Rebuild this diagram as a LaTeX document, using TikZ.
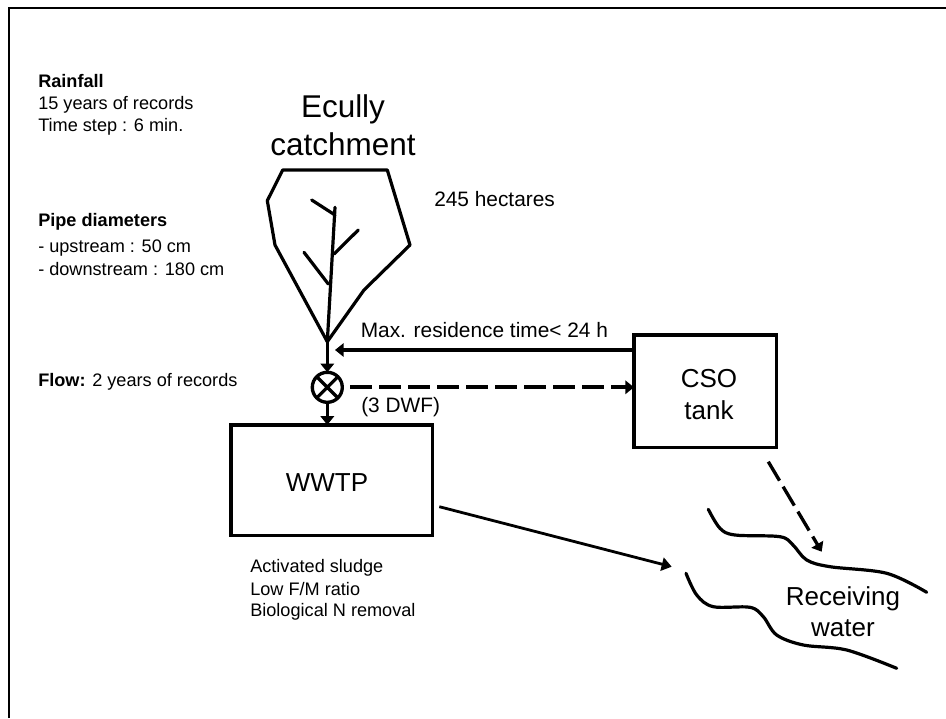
\documentclass[tikz,border=0pt]{standalone}
\usepackage{fontspec}
\setmainfont{Liberation Sans}
\usetikzlibrary{arrows.meta}
\tikzset{
  x=0.75pt,y=-0.75pt,
  frame line/.style={line width=1.7pt},
  shape line/.style={line width=2.4pt,line join=round,line cap=round},
  flow/.style={line width=2.5pt,-{Triangle[length=6.5pt,width=10pt]}},
  dflow/.style={flow,dash pattern=on 16.5pt off 5.25pt},
  longflow/.style={line width=2.1pt,-{Triangle[length=7.5pt,width=10pt]}},
  box/.style={draw,line width=2.6pt,outer sep=0pt,inner sep=0pt,align=center,font=\fontsize{19.5pt}{24pt}\selectfont},
  small/.style={font=\fontsize{13.6pt}{16.5pt}\selectfont,inner sep=0pt,anchor=base west},
  mid/.style={font=\fontsize{15.65pt}{19pt}\selectfont,inner sep=0pt,anchor=base west},
  big/.style={font=\fontsize{19.5pt}{24pt}\selectfont,inner sep=0pt,anchor=base},
  title text/.style={font=\fontsize{23.6pt}{27pt}\selectfont,inner sep=0pt,anchor=base}
}
\begin{document}
\begin{tikzpicture}
\useasboundingbox (0,0) rectangle (946,718);
\coordinate (fa) at (9,718); \coordinate (fb) at (9,8); \coordinate (fc) at (946,8);
\draw[frame line] (fa) -- (fb) -- (fc);
% left notes
\node[small] (rain) at (38,87) {\textbf{Rainfall}};
\node[small] (rain2) at (38,109) {15 years of records};
\node[small] (rain3) at (38,131) {Time step : 6 min.};
\node[small] (pipe) at (38,226) {\textbf{Pipe diameters}};
\node[small] (pipe2) at (38,252) {- upstream : 50 cm};
\node[small] (pipe3) at (38,275) {- downstream : 180 cm};
\node[small] (flowtxt) at (38,386) {\textbf{Flow:} 2 years of records};
% labels
\node[title text] (ecully) at (343,117) {Ecully};
\node[title text] (catch) at (343,155.7) {catchment};
\node[mid] (ha) at (434,206) {245 hectares};
\node[mid] (maxt) at (360.5,337.3) {Max. residence time< 24 h};
\node[mid] (dwf) at (361,412.5) {(3 DWF)};
\node[small] (as1) at (250,572.7) {Activated sludge};
\node[small] (as2) at (250,595) {Low F/M ratio};
\node[small] (as3) at (250,616.7) {Biological N removal};
\node[big] (rec) at (843,605) {Receiving};
\node[big] (wat) at (843,636.7) {water};
% catchment
\coordinate (c1) at (282.7,170); \coordinate (c2) at (387.3,170); \coordinate (c3) at (410,245);
\coordinate (c4) at (364,290); \coordinate (out) at (327.3,341.7); \coordinate (c6) at (275,245);
\coordinate (c7) at (267.3,200.7);
\draw[shape line] (c1) -- (c2) -- (c3) -- (c4) -- (out) -- (c6) -- (c7) -- cycle;
\coordinate (t) at (335,207.3);
\draw[shape line] (t) -- (out);
\coordinate (b1a) at (311.7,200); \coordinate (b1b) at (335,215);
\coordinate (b2a) at (358.3,230); \coordinate (b2b) at (334,254);
\coordinate (b3a) at (304,252.3); \coordinate (b3b) at (328.3,284);
\draw[shape line] (b1a) -- (b1b);
\draw[shape line] (b2a) -- (b2b);
\draw[shape line] (b3a) -- (b3b);
% mixer
\node[draw,circle,line width=2.5pt,minimum size=22.5pt,inner sep=0pt,outer sep=0pt] (mix) at (327.3,387.3) {};
\draw[line width=2.5pt] (mix.45) -- (mix.225) (mix.135) -- (mix.315);
% boxes
\node[box,minimum width=151.3pt,minimum height=83.1pt] (wwtp) at (331.85,480.25) {};
\node[big] (wwtpt) at (327,491.7) {WWTP};
\node[box,minimum width=106.9pt,minimum height=84.4pt] (cso) at (705.25,391.25) {};
\node[big] (csot) at (709,387) {CSO};
\node[big] (tankt) at (709,419) {tank};
% connectors
\draw[flow] (out) -- (mix.north);
\draw[flow] (mix.south) -- (mix.south |- wwtp.north);
\coordinate (mend) at (335,350);
\draw[flow] (cso.west |- mend) -- (mend);
\coordinate (dstart) at (350,387.3);
\draw[dflow,line width=2.8pt] (dstart) -- (cso.west |- dstart);
\coordinate (ws) at (439.3,506.7); \coordinate (we) at (671.7,566.7);
\draw[longflow] (ws) -- (we);
\coordinate (ds) at (768.3,461.7); \coordinate (de) at (821.7,551.7);
\draw[dflow] (ds) -- (de);
% river
\draw[shape line] plot[smooth,tension=0.55] coordinates {(708.3,509.3) (720,528.3) (735,535) (780,536.7) (793,545) (806.7,560) (830,566.7) (886.7,573.3) (926.7,592.3)};
\draw[shape line] plot[smooth,tension=0.55] coordinates {(686,573.3) (696.7,595) (713.3,606.7) (750,607.3) (763.3,616.7) (776.7,635) (803.3,645) (846.7,650) (896.7,668.3)};
\end{tikzpicture}
\end{document}
